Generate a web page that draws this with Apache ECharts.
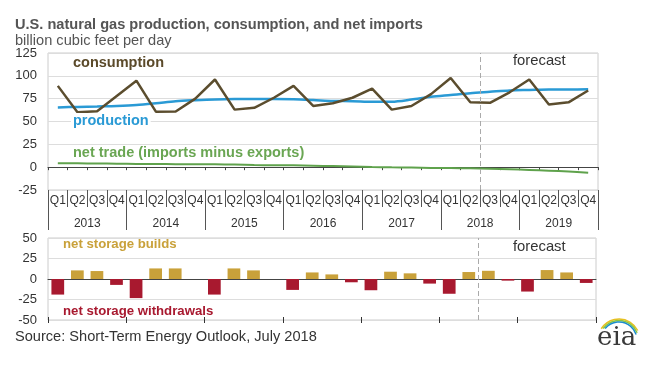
<!DOCTYPE html>
<html><head><meta charset="utf-8">
<script src="https://cdn.jsdelivr.net/npm/echarts@6/dist/echarts.min.js"></script>
<style>html,body{margin:0;padding:0;background:#fff}#c{width:648px;height:368px}</style>
</head><body><div id="c"></div>
<script>
const years = ['2013','2014','2015','2016','2017','2018','2019'];
const quarterNames = ['Q1','Q2','Q3','Q4'];
const categories = years.flatMap(y => quarterNames.map(q => y + ' ' + q));
const consumption = [89,60,61.3,78, 94.7,60.6,61,75, 96,63,65,76, 89,67,70,76, 86,63,67,80, 97.7,71,70.5,82, 96,68.7,71,84];
const production = [65.4,66,66.5,67, 68,70,72.3,73.4, 74.2,74.5,74.5,74.5, 74.3,73.5,72.5,72.3, 71.6,71.7,74,77, 79,81,82.5,84, 84.5,85,85,85.2];
const netTrade = [4.4,4.2,4,3.8, 3.6,3.4,3.3,3.3, 3.2,2.8,2.3,2.1, 2,1.6,1.2,0.7, 0.2,-0.2,-0.5,-0.8, -1,-1.3,-1.7,-2.3, -3,-3.8,-4.8,-6.2];
const storage = [-19,10.5,9.7,-7.2, -23.3,12.9,12.9,0, -19,12.9,10.5,0, -13.3,8,5.6,-4, -13.7,8.9,6.9,-5.6, -18,8.5,10,-2, -15.3,10.9,8,-4.8];
const topAxis = {min: -25, max: 125, interval: 25};
const bottomAxis = {min: -50, max: 50, interval: 25};
const forecastStart = 22; // 2018 Q3 = first forecast quarter

const FONT = 'Liberation Sans, Arial, sans-serif';
const chart = echarts.init(document.getElementById('c'), null, {renderer: 'canvas'});

const markForecast = {
  symbol: 'none', silent: true, label: {show: false},
  lineStyle: {color: '#aaa', type: [5, 3], width: 1},
  data: [{xAxis: forecastStart}]
};

const txt = (x, y, text, size, color, weight, bg) => {
  const s = {text: text, font: (weight || 'normal') + ' ' + size + 'px ' + FONT, fill: color};
  if (bg) { s.backgroundColor = '#fff'; s.padding = [0, 2]; }
  return {type: 'text', left: x, top: y, z: 100, style: s};
};

chart.setOption({
  animation: false,
  backgroundColor: '#fff',
  textStyle: {fontFamily: FONT},
  grid: [
    {left: 48, right: 50, top: 53, height: 137, show: true, borderColor: '#ccc', borderWidth: 1},
    {left: 48, right: 52, top: 238, height: 82, show: true, borderColor: '#ccc', borderWidth: 1}
  ],
  yAxis: [
    {gridIndex: 0, type: 'value', min: topAxis.min, max: topAxis.max, interval: topAxis.interval,
     axisLine: {show: false}, axisTick: {show: false},
     axisLabel: {fontSize: 13, color: '#333', margin: 11},
     splitLine: {lineStyle: {color: '#ddd'}}},
    {gridIndex: 1, type: 'value', min: bottomAxis.min, max: bottomAxis.max, interval: bottomAxis.interval,
     axisLine: {show: false}, axisTick: {show: false},
     axisLabel: {fontSize: 13, color: '#333', margin: 11},
     splitLine: {lineStyle: {color: '#ddd'}}}
  ],
  xAxis: [
    {gridIndex: 0, type: 'category', data: categories, position: 'bottom',
     axisLine: {show: true, onZero: true, lineStyle: {color: '#444'}},
     axisTick: {show: true, length: 3, lineStyle: {color: '#444'}, interval: 0},
     axisLabel: {show: false}},
    {gridIndex: 0, type: 'category', data: categories, position: 'bottom',
     axisLine: {show: false, onZero: false},
     axisTick: {show: true, length: 17, interval: 0, lineStyle: {color: '#555'}},
     axisLabel: {interval: 0, margin: 5, fontSize: 12, color: '#333', formatter: v => v.split(' ')[1]}},
    {gridIndex: 0, type: 'category', data: years, position: 'bottom',
     axisLine: {show: false, onZero: false},
     axisTick: {show: true, length: 40, interval: 0, lineStyle: {color: '#555'}},
     axisLabel: {interval: 0, margin: 28, fontSize: 12, color: '#333'}},
    {gridIndex: 0, type: 'value', min: 0, max: categories.length, show: false, position: 'top'},
    {gridIndex: 1, type: 'category', data: categories, position: 'bottom',
     axisLine: {show: true, onZero: true, lineStyle: {color: '#444'}},
     axisTick: {show: false}, axisLabel: {show: false}},
    {gridIndex: 1, type: 'category', data: years, position: 'bottom',
     axisLine: {show: false, onZero: true},
     axisTick: {show: true, length: 3, interval: 0, lineStyle: {color: '#333'}}, axisLabel: {show: false}},
    {gridIndex: 1, type: 'category', data: years, position: 'bottom',
     axisLine: {show: false, onZero: true},
     axisTick: {show: true, length: 3, inside: true, interval: 0, lineStyle: {color: '#333'}}, axisLabel: {show: false}},
    {gridIndex: 1, type: 'value', min: 0, max: categories.length, show: false, position: 'top'}
  ],
  series: [
    {type: 'line', name: 'net trade', xAxisIndex: 0, yAxisIndex: 0, data: netTrade, symbol: 'none',
     smooth: 0.3, lineStyle: {color: '#5fa24c', width: 2}, z: 3},
    {type: 'line', name: 'production', xAxisIndex: 0, yAxisIndex: 0, data: production, symbol: 'none',
     smooth: 0.3, lineStyle: {color: '#2a9ad5', width: 2.5}, z: 3},
    {type: 'line', name: 'consumption', xAxisIndex: 0, yAxisIndex: 0, data: consumption, symbol: 'none',
     lineStyle: {color: '#5b4d2e', width: 2.5}, z: 4},
    {type: 'line', name: 'forecast1', xAxisIndex: 3, yAxisIndex: 0, data: [], markLine: markForecast},
    {type: 'bar', name: 'storage', xAxisIndex: 4, yAxisIndex: 1, data: storage, barWidth: '65%',
     itemStyle: {color: p => p.value >= 0 ? '#c9a13a' : '#a8192f'}},
    {type: 'line', name: 'forecast2', xAxisIndex: 7, yAxisIndex: 1, data: [], markLine: markForecast}
  ],
  graphic: [
    txt(15, 17, 'U.S. natural gas production, consumption, and net imports', 14.6, '#555', 'bold'),
    txt(15, 33, 'billion cubic feet per day', 14.6, '#555'),
    txt(73, 55, 'consumption', 14.5, '#5b4a2a', 'bold'),
    txt(71, 113, 'production', 14.5, '#2a9ad5', 'bold', true),
    txt(73, 145, 'net trade (imports minus exports)', 14.5, '#6aa653', 'bold'),
    txt(513, 53, 'forecast', 14.8, '#333'),
    txt(63, 238, 'net storage builds', 13.2, '#c9a13a', 'bold'),
    txt(63, 305, 'net storage withdrawals', 13.2, '#a8192f', 'bold'),
    txt(513, 239, 'forecast', 14.8, '#333'),
    txt(15, 329, 'Source: Short-Term Energy Outlook, July 2018', 14.6, '#333'),
    {type: 'text', left: 597, top: 325, style: {text: 'eia', font: '26px DejaVu Serif, serif', fill: '#3a3a3a'}},
    {type: 'arc', shape: {cx: 619, cy: 340, r: 21, startAngle: Math.PI * 1.18, endAngle: Math.PI * 1.85}, style: {stroke: '#e8c020', lineWidth: 1.5, fill: null}},
    {type: 'arc', shape: {cx: 619, cy: 340, r: 19.5, startAngle: Math.PI * 1.2, endAngle: Math.PI * 1.88}, style: {stroke: '#8cc63f', lineWidth: 1.5, fill: null}},
    {type: 'arc', shape: {cx: 619, cy: 340, r: 18, startAngle: Math.PI * 1.22, endAngle: Math.PI * 1.9}, style: {stroke: '#1b8ccc', lineWidth: 1.5, fill: null}}
  ]
});
</script></body></html>
